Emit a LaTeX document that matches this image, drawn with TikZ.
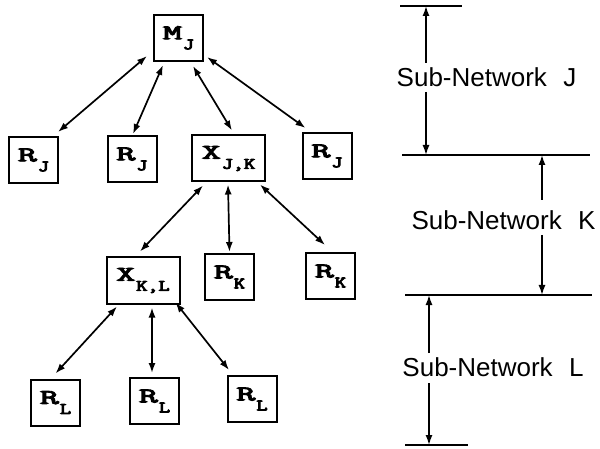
\documentclass[tikz,border=0pt]{standalone}
\usepackage{fontspec}
\usepackage{graphicx}
\usetikzlibrary{arrows.meta,calc}
\newfontfamily\boxfont[FakeBold=4]{Latin Modern Mono}
\newfontfamily\subboxfont[FakeBold=5]{Latin Modern Mono}
\newfontfamily\netfont{Liberation Sans}
\newcommand\boxlbl[2]{\scalebox{1.75}[1]{\boxfont\fontsize{21}{21}\selectfont #1}\hspace{1pt}\raisebox{-10pt}{\scalebox{1.35}[1]{\subboxfont\fontsize{16}{16}\selectfont #2}}}
\begin{document}
\begin{tikzpicture}[x=1pt,y=-1pt,
  box/.style={draw, line width=2pt, inner sep=0pt, minimum width=49pt, minimum height=46pt},
  widebox/.style={box, minimum width=73pt},
  arr/.style={{Latex[length=10pt,width=7pt]}-{Latex[length=10pt,width=7pt]}, line width=1.7pt},
  sarr/.style={-{Latex[length=10pt,width=7pt]}, line width=1.5pt},
  rule/.style={line width=1.5pt},
  netlbl/.style={font=\netfont\fontsize{26}{26}\selectfont, inner sep=0pt}]
\useasboundingbox (0,0) rectangle (600,449);
% boxes
\node[box] (MJ) at (178.5,38) {\boxlbl{M}{J}};
\node[box] (RJa) at (33.5,160) {\boxlbl{R}{J}};
\node[box] (RJb) at (132,159) {\boxlbl{R}{J}};
\node[widebox] (XJK) at (228.5,158.5) {\boxlbl{X}{J,K}};
\node[box] (RJc) at (327,156) {\boxlbl{R}{J}};
\node[widebox] (XKL) at (143,280.5) {\boxlbl{X}{K,L}};
\node[box] (RKa) at (229.5,277) {\boxlbl{R}{K}};
\node[box] (RKb) at (330.5,276) {\boxlbl{R}{K}};
\node[box] (RLa) at (55.5,402.5) {\boxlbl{R}{L}};
\node[box] (RLb) at (154.5,401) {\boxlbl{R}{L}};
\node[box] (RLc) at (252,399) {\boxlbl{R}{L}};
% connectors
\draw[arr] ($(MJ.south west)+(-6,-6)$) -- ($(RJa.north east)+(-1,-4)$);
\draw[arr] ($(MJ.south)+(-15.5,3)$) -- ($(RJb.north)+(1,-1)$);
\draw[arr] ($(MJ.south)+(14.5,4)$) -- ($(XJK.north)+(3.5,-4)$);
\draw[arr] ($(MJ.south east)+(3,-5)$) -- ($(RJc.north west)+(4,-4)$);
\draw[arr] ($(XJK.south)+(-25.5,3)$) -- ($(XKL.north)+(-3,-5)$);
\draw[arr] ($(XJK.south)+(-0.5,2)$) -- ($(RKa.north)+(0,-1)$);
\draw[arr] ($(XJK.south east)+(-6,2)$) -- ($(RKb.north)+(-5.5,-7)$);
\draw[arr] ($(XKL.south)+(-26,2)$) -- ($(RLa.north)+(0,-5)$);
\draw[arr] ($(XKL.south)+(9,3)$) -- ($(RLb.north)+(-2.5,-4)$);
\draw[arr] ($(XKL.south east)+(-5,-2)$) -- ($(RLc.north)+(-23,-5)$);
% right side rules
\coordinate (l1a) at (400,6); \coordinate (l1b) at (462,6);
\coordinate (l2a) at (402,155); \coordinate (l2b) at (590,155);
\coordinate (l3a) at (405,295); \coordinate (l3b) at (592,295);
\coordinate (l4a) at (405,445); \coordinate (l4b) at (468,445);
\draw[rule] (l1a) -- (l1b);
\draw[rule] (l2a) -- (l2b);
\draw[rule] (l3a) -- (l3b);
\draw[rule] (l4a) -- (l4b);
% labels
\node[netlbl] (SJ) at (486.5,77) {Sub-Network\hspace{0.35em} J};
\node[netlbl] (SK) at (503.5,220) {Sub-Network\hspace{0.35em} K};
\node[netlbl] (SL) at (493,367) {Sub-Network\hspace{0.35em} L};
% dimension arrows
\coordinate (ja) at (426,63); \coordinate (jt) at (426,6);
\coordinate (jb) at (426,92); \coordinate (jd) at (426,155);
\coordinate (ka) at (542,200); \coordinate (kt) at (542,155);
\coordinate (kb) at (542,235); \coordinate (kd) at (542,295);
\coordinate (la) at (429,353); \coordinate (lt) at (429,295);
\coordinate (lb) at (429,383); \coordinate (ld) at (429,445);
\draw[sarr] (ja) -- (jt);
\draw[sarr] (jb) -- (jd);
\draw[sarr] (ka) -- (kt);
\draw[sarr] (kb) -- (kd);
\draw[sarr] (la) -- (lt);
\draw[sarr] (lb) -- (ld);
\end{tikzpicture}
\end{document}
